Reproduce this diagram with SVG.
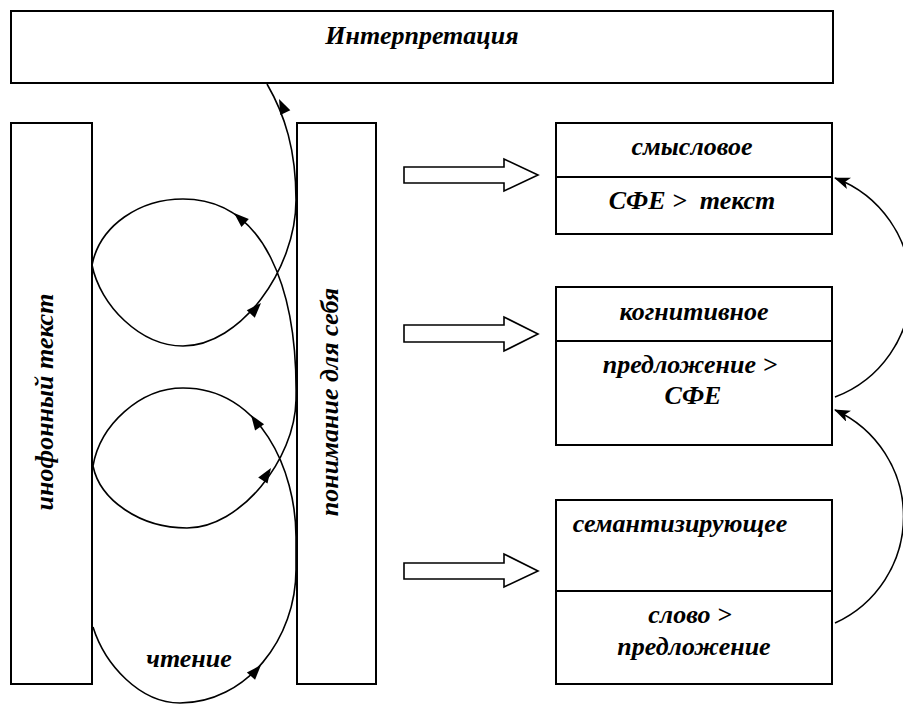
<svg xmlns="http://www.w3.org/2000/svg" width="903" height="704" viewBox="0 0 903 704">
<style>
.box{fill:#fff;stroke:#000;stroke-width:2}
.ln{fill:none;stroke:#000;stroke-width:1.6}
.blk{fill:#fff;stroke:#000;stroke-width:1.6;stroke-linejoin:miter}
.t{font-family:"Liberation Serif","Times New Roman","DejaVu Serif",serif;font-weight:bold;font-style:italic;font-size:26px;fill:#000;text-anchor:middle}
</style>
<defs>
<polygon id="ah" points="0,0 -15,-5.5 -15,5.5" fill="#000"/>
<marker id="mk" viewBox="0 0 16 12" refX="15" refY="6" markerWidth="16" markerHeight="12" markerUnits="userSpaceOnUse" orient="auto"><path d="M0,0 L16,6 L0,12 L4,6 z" fill="#000"/></marker>
</defs>
<g id="interpretation">
<rect class="box" x="11" y="11" width="822" height="72"/>
<text class="t" x="422" y="44">Интерпретация</text>
</g>
<g id="inophone">
<rect class="box" x="11" y="123" width="81" height="561"/>
<text class="t" transform="translate(53,402) rotate(-90)">инофонный текст</text>
</g>
<g id="understanding">
<rect class="box" x="297" y="123" width="79" height="561"/>
<text class="t" transform="translate(338,402) rotate(-90)">понимание для себя</text>
</g>
<g id="smyslovoe">
<rect class="box" x="556" y="123" width="276" height="111"/>
<line class="box" x1="556" y1="177" x2="832" y2="177"/>
<text class="t" x="692" y="155">смысловое</text>
<text class="t" x="692" y="209" xml:space="preserve">СФЕ &gt;  текст</text>
</g>
<g id="kognitivnoe">
<rect class="box" x="556" y="287" width="276" height="158"/>
<line class="box" x1="556" y1="341" x2="832" y2="341"/>
<text class="t" x="694" y="320">когнитивное</text>
<text class="t" x="690" y="373">предложение &gt;</text>
<text class="t" x="693" y="404">СФЕ</text>
</g>
<g id="semantiziruyushchee">
<rect class="box" x="556" y="500" width="276" height="184"/>
<line class="box" x1="556" y1="591" x2="832" y2="591"/>
<text class="t" x="680" y="532">семантизирующее</text>
<text class="t" x="690" y="623">слово &gt;</text>
<text class="t" x="694" y="655">предложение</text>
</g>
<g id="connectors">
<polygon class="blk" points="404,167 504,167 504,159 538,175 504,191 504,183 404,183"/>
<polygon class="blk" points="404,325 504,325 504,317 538,334 504,351 504,342 404,342"/>
<polygon class="blk" points="404,563 504,563 504,554 538,571 504,587 504,579 404,579"/>
<path class="ln" d="M835,397 A117,117 0 0 0 835,178" marker-end="url(#mk)"/>
<path class="ln" d="M835,623 A117,117 0 0 0 835,410" marker-end="url(#mk)"/>
<path class="ln" d="M93,627 C105,665 140,703 180,703 C245,703 297,640 296,567 L296,537 C296,470 260,388 183,388 C140,388 100,425 93,466 C100,500 140,528 187,528 C240,528 295,460 296,400 C298,290 265,199 183,199 C140,199 100,225 92,265 C100,305 140,346 183,346 C240,346 296,270 296,200 C296,150 285,115 267,84"/>
<use href="#ah" transform="translate(279,99) rotate(-115)"/>
<use href="#ah" transform="translate(234,213) rotate(-138)"/>
<use href="#ah" transform="translate(261,303) rotate(-47)"/>
<use href="#ah" transform="translate(251,415) rotate(-125)"/>
<use href="#ah" transform="translate(271,468) rotate(-57)"/>
<use href="#ah" transform="translate(261,665) rotate(-48)"/>
<text class="t" x="189" y="667">чтение</text>
</g>
</svg>
